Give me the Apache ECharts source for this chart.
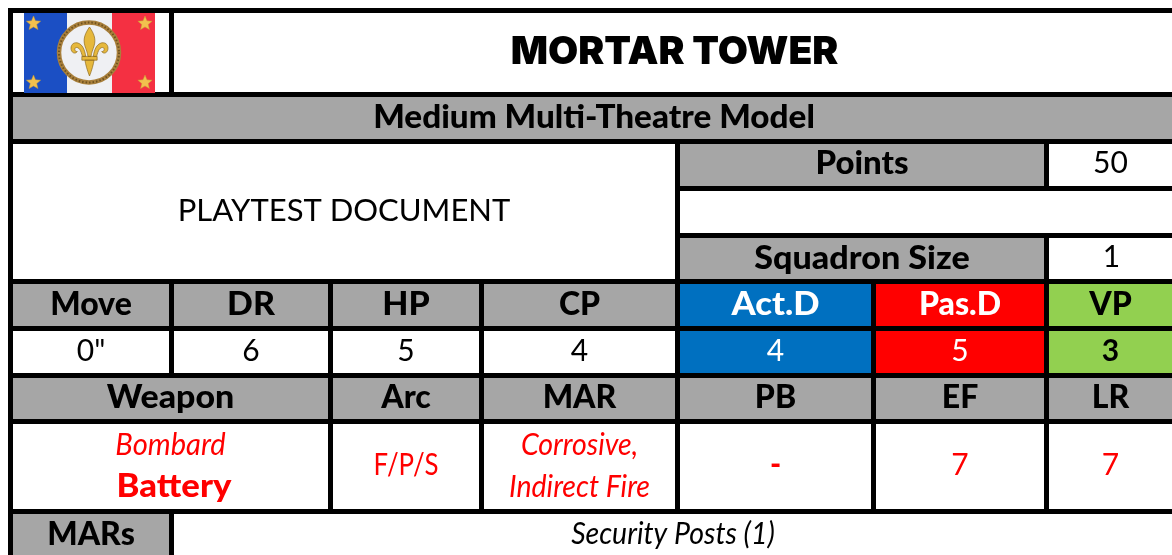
<!DOCTYPE html>
<html>
<head>
<meta charset="utf-8">
<title>Mortar Tower</title>
<script src="https://cdn.jsdelivr.net/npm/echarts@6/dist/echarts.min.js"></script>
<style>
  html, body { margin: 0; padding: 0; background: #fff; }
  #main { width: 1172px; height: 555px; }
</style>
</head>
<body>
<div id="main"></div>
<script>
// table contents
var titleText = 'MORTAR TOWER';
var subtitleText = 'Medium Multi-Theatre Model';
var noteText = 'PLAYTEST DOCUMENT';
var pointsRow = ['Points', '50'];
var squadronRow = ['Squadron Size', '1'];
var statLabels = ['Move', 'DR', 'HP', 'CP', 'Act.D', 'Pas.D', 'VP'];
var statValues = ['0"', '6', '5', '4', '4', '5', '3'];
var weaponLabels = ['Weapon', 'Arc', 'MAR', 'PB', 'EF', 'LR'];
var weaponName = ['Bombard', 'Battery'];
var weaponArc = 'F/P/S';
var weaponMar = ['Corrosive,', 'Indirect Fire'];
var weaponRanges = ['-', '7', '7'];
var marsRow = ['MARs', 'Security Posts (1)'];

// grid lines of the sheet, [start, end] of each black rule
var colLines = [[8, 13], [169, 174], [328, 333], [479, 484], [675, 680], [871, 876], [1044, 1049], [1172, 1172]];
var rowLines = [[8, 13], [92, 97], [139, 144], [186, 191], [233, 238], [279, 284], [326, 331], [373, 378], [419, 424], [509, 514], [555, 555]];

var GREY = '#a6a6a6', BLUE = '#0070c0', RED = '#ff0000', GREEN = '#92d050', WHITE = '#ffffff', BLACK = '#000000';
var FONT = 'Lato';

function head(t, color, extra) {
  var l = { t: t, size: 32, weight: 900, color: color || BLACK, dy: 0 };
  for (var k in extra) l[k] = extra[k];
  return l;
}
function body(t, color, extra) {
  var l = { t: t, size: 30, weight: 400, color: color || BLACK, dy: -1 };
  for (var k in extra) l[k] = extra[k];
  return l;
}
function ital(t, sx) { return { t: t, size: 30, weight: 400, style: 'italic', color: RED, sx: sx, dy: -0.5 }; }

// c0,c1 = first/last+1 column, r0,r1 = first/last+1 row
var cells = [
  { c0: 0, c1: 1, r0: 0, r1: 1, bg: WHITE, lines: [] },
  { c0: 1, c1: 7, r0: 0, r1: 1, bg: WHITE, lines: [{ t: titleText, size: 39, weight: 900, color: BLACK, dx: 1.5, font: 'Inter' }] },
  { c0: 0, c1: 7, r0: 1, r1: 2, bg: GREY, lines: [head(subtitleText, BLACK, { sx: 1.04, dx: 1.5 })] },
  { c0: 0, c1: 4, r0: 2, r1: 5, bg: WHITE, lines: [body(noteText, BLACK, { size: 31 })] },
  { c0: 4, c1: 6, r0: 2, r1: 3, bg: GREY, lines: [head(pointsRow[0], BLACK, { sx: 1.03, dy: -1.5 })] },
  { c0: 6, c1: 7, r0: 2, r1: 3, bg: WHITE, lines: [body(pointsRow[1], BLACK, { dy: -2 })] },
  { c0: 4, c1: 7, r0: 3, r1: 4, bg: WHITE, lines: [] },
  { c0: 4, c1: 6, r0: 4, r1: 5, bg: GREY, lines: [head(squadronRow[0], BLACK, { sx: 1.065 })] },
  { c0: 6, c1: 7, r0: 4, r1: 5, bg: WHITE, lines: [body(squadronRow[1], BLACK, { dx: 1 })] }
];
var statBg = [GREY, GREY, GREY, GREY, BLUE, RED, GREEN];
var valBg = [WHITE, WHITE, WHITE, WHITE, BLUE, RED, GREEN];
var statFg = [BLACK, BLACK, BLACK, BLACK, WHITE, WHITE, BLACK];
var statSx = [1, 1.06, 1.06, 1, 1.08, 1, 1];
statLabels.forEach(function (s, i) {
  cells.push({ c0: i, c1: i + 1, r0: 5, r1: 6, bg: statBg[i], lines: [head(s, statFg[i], { sx: statSx[i] })] });
  var v = body(statValues[i], statFg[i]);
  if (i === 6) v.weight = 700;
  cells.push({ c0: i, c1: i + 1, r0: 6, r1: 7, bg: valBg[i], lines: [v] });
});
var weaponCols = [[0, 2], [2, 3], [3, 4], [4, 5], [5, 6], [6, 7]];
weaponLabels.forEach(function (s, i) {
  cells.push({ c0: weaponCols[i][0], c1: weaponCols[i][1], r0: 7, r1: 8, bg: GREY, lines: [head(s, BLACK, { sx: i === 0 ? 1.06 : 1, dy: -0.5 })] });
});
cells.push({
  c0: 0, c1: 2, r0: 8, r1: 9, bg: WHITE,
  lines: [ital(weaponName[0], 0.97), { t: weaponName[1], size: 33, weight: 900, color: RED, dx: 3.5, dy: -1, sx: 1.05 }]
});
cells.push({ c0: 2, c1: 3, r0: 8, r1: 9, bg: WHITE, lines: [body(weaponArc, RED, { sx: 0.86 })] });
cells.push({ c0: 3, c1: 4, r0: 8, r1: 9, bg: WHITE, lines: [ital(weaponMar[0], 0.95), ital(weaponMar[1], 0.95)] });
weaponRanges.forEach(function (s, i) {
  cells.push({ c0: 4 + i, c1: 5 + i, r0: 8, r1: 9, bg: WHITE, lines: [body(s, RED, i === 0 ? { weight: 900 } : {})] });
});
cells.push({ c0: 0, c1: 1, r0: 9, r1: 10, bg: GREY, lines: [head(marsRow[0])] });
cells.push({ c0: 1, c1: 7, r0: 9, r1: 10, bg: WHITE, lines: [{ t: marsRow[1], size: 30, weight: 400, style: 'italic', color: BLACK, sx: 0.95 }] });

function renderCell(params, api) {
  var c = cells[params.dataIndex];
  var p0 = api.coord([colLines[c.c0][1], rowLines[c.r0][1]]);
  var p1 = api.coord([colLines[c.c1][0], rowLines[c.r1][0]]);
  var kids = [{
    type: 'rect',
    shape: { x: p0[0], y: p0[1], width: p1[0] - p0[0], height: p1[1] - p0[1] },
    style: { fill: c.bg }
  }];
  var step = 42;
  var cx = (p0[0] + p1[0]) / 2, cy = (p0[1] + p1[1]) / 2;
  c.lines.forEach(function (l, i) {
    kids.push({
      type: 'text',
      x: cx + (l.dx || 0),
      y: cy + (i - (c.lines.length - 1) / 2) * step + (l.dy || 0),
      scaleX: l.sx || 1,
      style: {
        text: l.t,
        fill: l.color,
        font: (l.style || 'normal') + ' ' + l.weight + ' ' + l.size + 'px "' + (l.font || FONT) + '"',
        align: 'center',
        verticalAlign: 'middle'
      }
    });
  });
  return { type: 'group', children: kids };
}

function star(cx, cy, r) {
  var pts = [];
  for (var i = 0; i < 10; i++) {
    var a = -Math.PI / 2 + i * Math.PI / 5, rr = i % 2 ? r * 0.45 : r;
    pts.push([cx + rr * Math.cos(a), cy + rr * Math.sin(a)]);
  }
  return { type: 'polygon', shape: { points: pts }, style: { fill: '#f2c14e', stroke: '#c99a34', lineWidth: 0.5 } };
}

var FLEUR = 'M50 0C60 15 68 30 62 50C59 60 55 68 54 78L46 78C45 68 41 60 38 50C32 30 40 15 50 0Z' +
  'M40 78C38 62 32 45 18 42C6 40 0 50 2 60C4 70 14 72 18 65C14 66 10 62 12 57C14 52 22 54 26 62C30 70 30 76 32 78Z' +
  'M60 78C62 62 68 45 82 42C94 40 100 50 98 60C96 70 86 72 82 65C86 66 90 62 88 57C86 52 78 54 74 62C70 70 70 76 68 78Z' +
  'M30 78L70 78L70 88L30 88Z' +
  'M38 88L62 88C60 100 56 115 50 130C44 115 40 100 38 88Z';

function renderFlag() {
  return {
    type: 'group',
    children: [
      { type: 'rect', shape: { x: 24, y: 13, width: 44, height: 80 }, style: { fill: '#1b4fc4' } },
      { type: 'rect', shape: { x: 67, y: 13, width: 45, height: 80 }, style: { fill: '#eff0f3' } },
      { type: 'rect', shape: { x: 112, y: 13, width: 43, height: 80 }, style: { fill: '#f43042' } },
      star(33.5, 23.5, 7.5), star(145, 23.5, 7.5), star(33.5, 82.5, 7.5), star(145, 82.5, 7.5),
      { type: 'circle', shape: { cx: 89, cy: 52.5, r: 30 }, style: { fill: '#eff0f3', stroke: '#a9803c', lineWidth: 4.5 } },
      { type: 'circle', shape: { cx: 89, cy: 52.5, r: 30 }, style: { fill: 'none', stroke: '#6f521f', lineWidth: 2, lineDash: [1.5, 2] } },
      {
        type: 'path',
        shape: { pathData: FLEUR, layout: 'cover', x: 71, y: 27, width: 37, height: 49 },
        style: { fill: '#e6b83c', stroke: '#8f6c20', lineWidth: 0.7 }
      }
    ]
  };
}

var chart = echarts.init(document.getElementById('main'), null, { renderer: 'canvas' });
chart.setOption({
  animation: false,
  backgroundColor: '#fff',
  grid: { left: 0, right: 0, top: 0, bottom: 0 },
  xAxis: { type: 'value', min: 0, max: 1172, show: false },
  yAxis: { type: 'value', min: 0, max: 555, inverse: true, show: false },
  tooltip: { show: false },
  series: [
    {
      // black sheet behind everything, the gaps between cells become the rules
      type: 'custom',
      coordinateSystem: 'cartesian2d',
      silent: true,
      clip: false,
      z: 1,
      data: [[0]],
      renderItem: function (params, api) {
        var p0 = api.coord([colLines[0][0], rowLines[0][0]]);
        var p1 = api.coord([1172, 555]);
        return { type: 'rect', shape: { x: p0[0], y: p0[1], width: p1[0] - p0[0], height: p1[1] - p0[1] }, style: { fill: BLACK } };
      }
    },
    {
      type: 'custom',
      coordinateSystem: 'cartesian2d',
      silent: true,
      clip: false,
      z: 2,
      data: cells.map(function (c, i) { return [i]; }),
      renderItem: renderCell
    },
    {
      type: 'custom',
      coordinateSystem: 'cartesian2d',
      silent: true,
      clip: false,
      z: 3,
      data: [[0]],
      renderItem: renderFlag
    }
  ]
});
</script>
</body>
</html>
